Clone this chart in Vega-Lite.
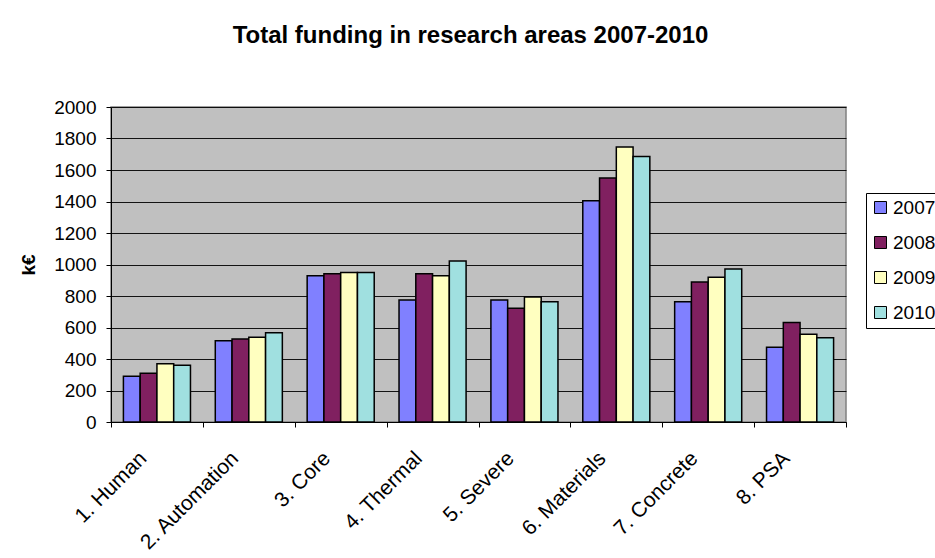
{
  "$schema": "https://vega.github.io/schema/vega-lite/v6.json",
  "autosize": {"type": "none"},
  "padding": {"left": 111, "top": 107, "right": 89, "bottom": 136},
  "width": 735,
  "height": 315,
  "background": "white",
  "title": {
    "text": "Total funding in research areas 2007-2010",
    "font": "Liberation Sans",
    "fontSize": 24,
    "fontWeight": "bold",
    "color": "black",
    "anchor": "middle",
    "frame": "group",
    "dx": -8,
    "offset": 50
  },
  "data": {
    "values": [
      {"area": "1. Human", "year": "2007", "value": 290},
      {"area": "1. Human", "year": "2008", "value": 309},
      {"area": "1. Human", "year": "2009", "value": 370},
      {"area": "1. Human", "year": "2010", "value": 360},
      {"area": "2. Automation", "year": "2007", "value": 516},
      {"area": "2. Automation", "year": "2008", "value": 527},
      {"area": "2. Automation", "year": "2009", "value": 538},
      {"area": "2. Automation", "year": "2010", "value": 567},
      {"area": "3. Core", "year": "2007", "value": 929},
      {"area": "3. Core", "year": "2008", "value": 942},
      {"area": "3. Core", "year": "2009", "value": 950},
      {"area": "3. Core", "year": "2010", "value": 950},
      {"area": "4. Thermal", "year": "2007", "value": 775},
      {"area": "4. Thermal", "year": "2008", "value": 942},
      {"area": "4. Thermal", "year": "2009", "value": 929},
      {"area": "4. Thermal", "year": "2010", "value": 1022},
      {"area": "5. Severe", "year": "2007", "value": 775},
      {"area": "5. Severe", "year": "2008", "value": 722},
      {"area": "5. Severe", "year": "2009", "value": 794},
      {"area": "5. Severe", "year": "2010", "value": 764},
      {"area": "6. Materials", "year": "2007", "value": 1405},
      {"area": "6. Materials", "year": "2008", "value": 1549},
      {"area": "6. Materials", "year": "2009", "value": 1746},
      {"area": "6. Materials", "year": "2010", "value": 1685},
      {"area": "7. Concrete", "year": "2007", "value": 764},
      {"area": "7. Concrete", "year": "2008", "value": 889},
      {"area": "7. Concrete", "year": "2009", "value": 919},
      {"area": "7. Concrete", "year": "2010", "value": 971},
      {"area": "8. PSA", "year": "2007", "value": 474},
      {"area": "8. PSA", "year": "2008", "value": 631},
      {"area": "8. PSA", "year": "2009", "value": 557},
      {"area": "8. PSA", "year": "2010", "value": 535}
    ]
  },
  "mark": {"type": "bar", "stroke": "black", "strokeWidth": 1.5},
  "encoding": {
    "x": {
      "field": "area",
      "type": "nominal",
      "sort": null,
      "scale": {"paddingInner": 0, "paddingOuter": 0},
      "axis": {
        "title": null,
        "labelAngle": -45,
        "labelAlign": "right",
        "labelBaseline": "middle",
        "labelFont": "Liberation Sans",
        "labelFontSize": 21,
        "labelColor": "black",
        "labelPadding": 28,
        "labelOffset": -14,
        "tickBand": "extent",
        "tickColor": "black",
        "tickSize": 5,
        "domainColor": "black",
        "labelOverlap": false
      }
    },
    "xOffset": {
      "field": "year",
      "type": "nominal",
      "scale": {"paddingInner": 0, "paddingOuter": 0.74}
    },
    "y": {
      "field": "value",
      "type": "quantitative",
      "scale": {"domain": [0, 2000], "nice": false},
      "axis": {
        "title": "k€",
        "titleFont": "Liberation Sans",
        "titleFontSize": 19,
        "titleFontWeight": "bold",
        "titleColor": "black",
        "titlePadding": 15,
        "values": [0, 200, 400, 600, 800, 1000, 1200, 1400, 1600, 1800, 2000],
        "format": "d",
        "labelFont": "Liberation Sans",
        "labelFontSize": 19,
        "labelColor": "black",
        "labelPadding": 10,
        "tickColor": "black",
        "tickSize": 5,
        "domainColor": "black",
        "gridColor": "black",
        "gridWidth": 1,
        "gridOpacity": 0.9
      }
    },
    "color": {
      "field": "year",
      "type": "nominal",
      "scale": {
        "domain": ["2007", "2008", "2009", "2010"],
        "range": ["#8080FF", "#802060", "#FFFFC0", "#A0E0E0"]
      },
      "legend": {
        "title": null,
        "orient": "none",
        "legendX": 755,
        "legendY": 86,
        "strokeColor": "black",
        "padding": 5,
        "symbolType": "square",
        "symbolSize": 144,
        "symbolStrokeColor": "black",
        "symbolStrokeWidth": 1,
        "labelFont": "Liberation Sans",
        "labelFontSize": 19,
        "labelColor": "black",
        "rowPadding": 15,
        "labelOffset": 3
      }
    }
  },
  "config": {
    "view": {"fill": "#C0C0C0", "stroke": "#808080", "strokeWidth": 1.5}
  }
}
